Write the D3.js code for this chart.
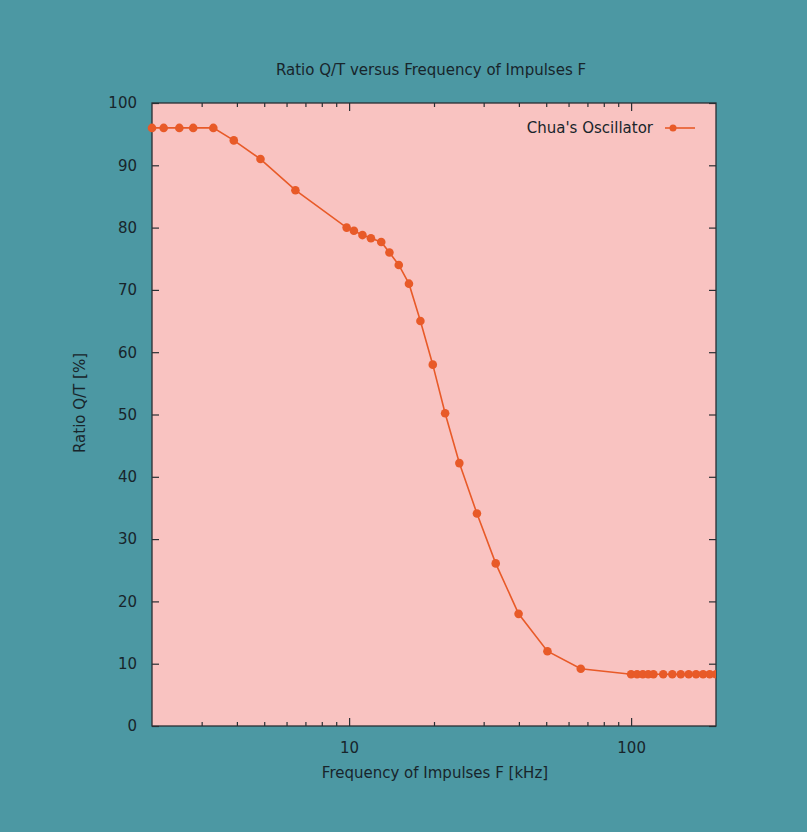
<!DOCTYPE html>
<html>
	<head>
		<meta charset="utf-8">
		<script src="https://cdnjs.cloudflare.com/ajax/libs/d3/7.8.5/d3.min.js" charset="utf-8"></script>
		<style>
			body { margin: 0; background: #4c98a3; }
			svg text { font-family: "DejaVu Sans", sans-serif; fill: #18252b; }
			.title { font-size: 15px; text-anchor: middle; }
			.tick text { font-size: 15px; font-family: "DejaVu Sans", sans-serif; }
		</style>
	</head>
	<body>
		<div id="chart"></div>
		<script>
			//////////////////////////// Data ////////////////////////////
			var freq  = [2, 2.2, 2.5, 2.8, 3.3, 3.9, 4.85, 6.45, 9.8, 10.4, 11.15, 11.95, 13, 13.9, 15, 16.3,
			             17.9, 19.8, 21.9, 24.6, 28.4, 33.1, 39.9, 50.5, 66.3,
			             100, 105, 110, 115, 120, 130, 140, 150, 160, 170, 180, 190, 200];
			var ratio = [96, 96, 96, 96, 96, 94, 91, 86, 80, 79.5, 78.8, 78.3, 77.7, 76, 74, 71,
			             65, 58, 50.2, 42.2, 34.1, 26.1, 18, 12, 9.2,
			             8.3, 8.3, 8.3, 8.3, 8.3, 8.3, 8.3, 8.3, 8.3, 8.3, 8.3, 8.3, 8.3];
			var yTicks = [0, 10, 20, 30, 40, 50, 60, 70, 80, 90, 100];
			var xMajor = [10, 100];
			var xMinor = [3, 4, 5, 6, 7, 8, 9, 20, 30, 40, 50, 60, 70, 80, 90];
			var seriesName = "Chua's Oscillator";

			var data = freq.map(function(f, i) { return { f: f, r: ratio[i] }; });

			//////////////////////////// Setup ////////////////////////////
			var W = 807, H = 832;
			var margin = { top: 103, right: 91, bottom: 106, left: 152 };
			var width = W - margin.left - margin.right,
				height = H - margin.top - margin.bottom;

			var color = "#e85a28";

			var svg = d3.select("#chart").append("svg")
				.attr("width", W)
				.attr("height", H);

			svg.append("rect")
				.attr("width", W).attr("height", H)
				.style("fill", "#4c98a3");

			var g = svg.append("g")
				.attr("transform", "translate(" + margin.left + "," + margin.top + ")");

			var x = d3.scaleLog().domain([2, 200]).range([0, width]);
			var y = d3.scaleLinear().domain([0, 100]).range([height, 0]);

			//Plot background
			g.append("rect")
				.attr("width", width).attr("height", height)
				.style("fill", "#f9c3c1");

			g.append("clipPath").attr("id", "clip")
				.append("rect").attr("x", -5).attr("width", width + 5).attr("height", height);

			//////////////////////////// Axes ////////////////////////////
			//Left axis with labels, right axis mirrored ticks
			g.append("g")
				.call(d3.axisLeft(y).tickValues(yTicks).tickSize(-7).tickPadding(15))
				.call(function(a) { a.select(".domain").remove(); });
			g.append("g")
				.attr("transform", "translate(" + width + ",0)")
				.call(d3.axisRight(y).tickValues(yTicks).tickSize(-7).tickFormat(""))
				.call(function(a) { a.select(".domain").remove(); });

			//Bottom major and minor
			g.append("g")
				.attr("transform", "translate(0," + height + ")")
				.call(d3.axisBottom(x).tickValues(xMajor).tickSize(-8).tickPadding(16).tickFormat(d3.format("d")))
				.call(function(a) { a.select(".domain").remove(); });
			g.append("g")
				.attr("transform", "translate(0," + height + ")")
				.call(d3.axisBottom(x).tickValues(xMinor).tickSize(-4).tickFormat(""))
				.call(function(a) { a.select(".domain").remove(); });
			//Top mirrored
			g.append("g")
				.call(d3.axisTop(x).tickValues(xMajor).tickSize(-8).tickFormat(""))
				.call(function(a) { a.select(".domain").remove(); });
			g.append("g")
				.call(d3.axisTop(x).tickValues(xMinor).tickSize(-4).tickFormat(""))
				.call(function(a) { a.select(".domain").remove(); });

			g.selectAll(".tick line").style("stroke", "#2a2f33").style("stroke-width", 1.2);
			g.selectAll(".tick text").style("fill", "#18252b");

			//Frame
			g.append("rect")
				.attr("width", width).attr("height", height)
				.style("fill", "none")
				.style("stroke", "#2a2f33")
				.style("stroke-width", 1.3);

			//////////////////////////// Line ////////////////////////////
			var line = d3.line()
				.x(function(d) { return x(d.f); })
				.y(function(d) { return y(d.r); });

			var plot = g.append("g").attr("clip-path", "url(#clip)");

			plot.append("path")
				.datum(data)
				.attr("d", line)
				.style("fill", "none")
				.style("stroke", color)
				.style("stroke-width", 1.6);

			plot.selectAll(".dot")
				.data(data)
				.enter().append("circle")
				.attr("class", "dot")
				.attr("cx", function(d) { return x(d.f); })
				.attr("cy", function(d) { return y(d.r); })
				.attr("r", 4.3)
				.style("fill", color);

			//////////////////////////// Legend ////////////////////////////
			var leg = g.append("g")
				.attr("transform", "translate(" + (width - 63) + ",25)");
			leg.append("text")
				.attr("x", 0).attr("y", 5)
				.style("text-anchor", "end")
				.style("font-size", "15px")
				.text(seriesName);
			leg.append("line")
				.attr("x1", 12).attr("x2", 42)
				.style("stroke", color).style("stroke-width", 1.6);
			leg.append("circle")
				.attr("cx", 20).attr("r", 3.5)
				.style("fill", color);

			//////////////////////////// Titles ////////////////////////////
			svg.append("text")
				.attr("class", "title")
				.attr("x", 431).attr("y", 75)
				.text("Ratio Q/T versus Frequency of Impulses F");

			svg.append("text")
				.attr("class", "title")
				.attr("x", 435).attr("y", 778)
				.text("Frequency of Impulses F [kHz]");

			svg.append("text")
				.attr("class", "title")
				.attr("transform", "translate(85,403) rotate(-90)")
				.text("Ratio Q/T [%]");
		</script>
	</body>
</html>
